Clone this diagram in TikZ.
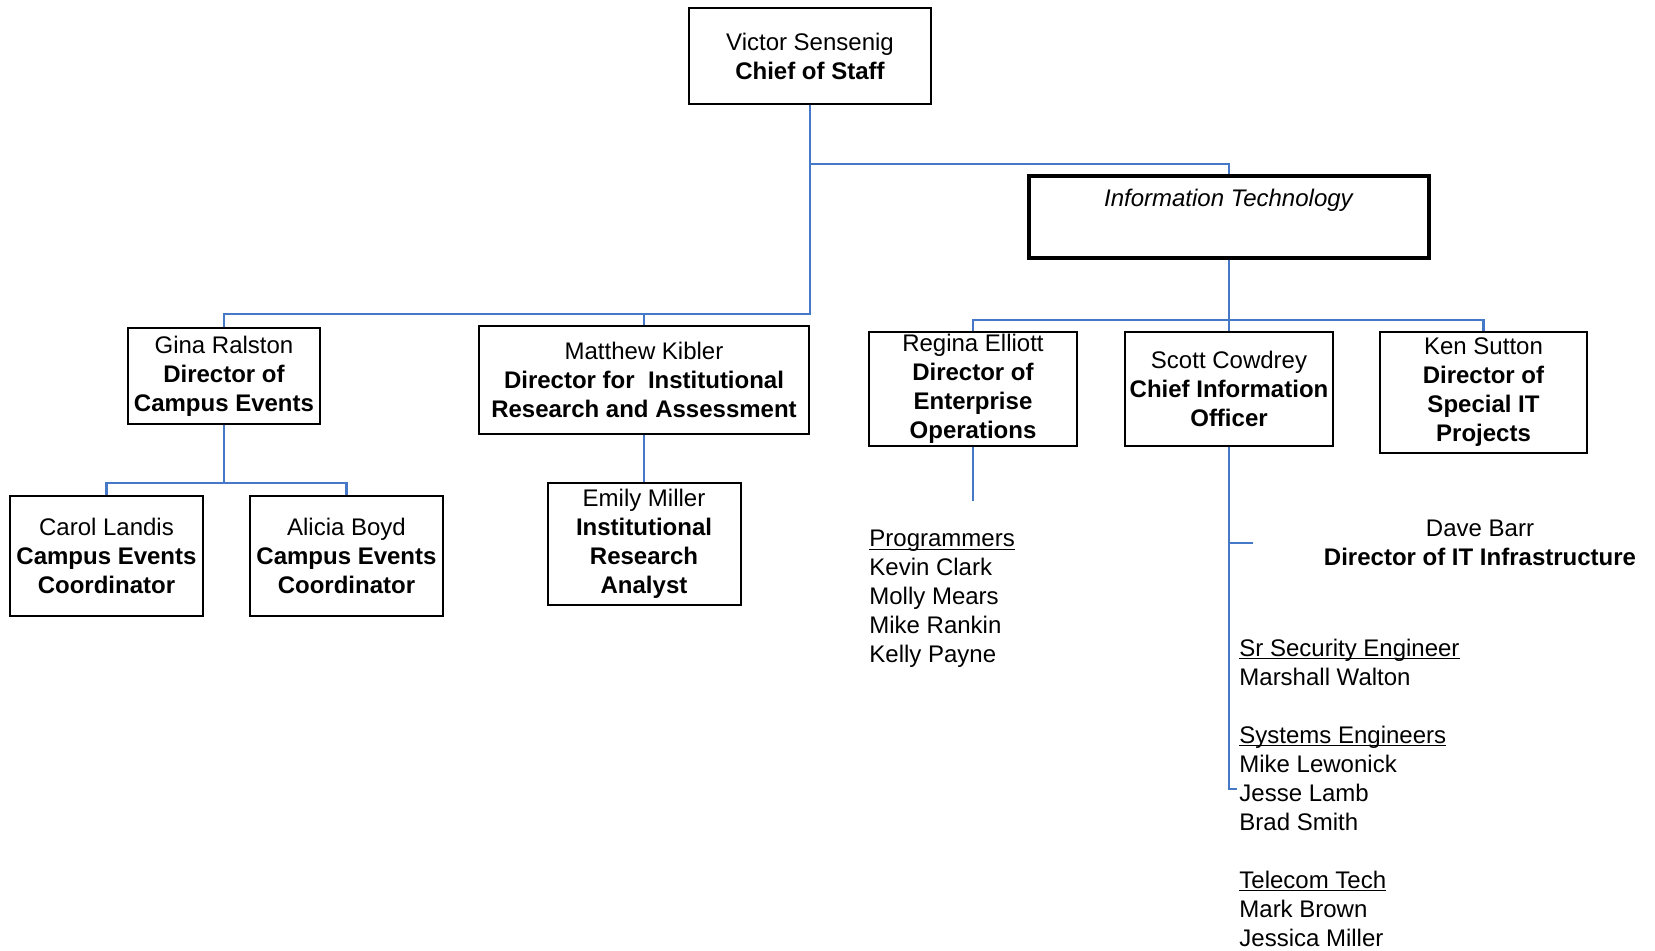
\documentclass[tikz,border=0pt]{standalone}
\usepackage{fontspec}
\setmainfont{Liberation Sans}
\usetikzlibrary{positioning}
\definecolor{linkblue}{RGB}{70,120,200}

\begin{document}
\begin{tikzpicture}[x=0.5pt,y=-0.5pt,
  every node/.style={font=\fontsize{12}{14.5}\selectfont,inner sep=0pt},
  box/.style={draw,line width=1pt,align=center},
  link/.style={draw=linkblue,line width=1.2pt},
  list/.style={anchor=north west,align=left}]
\useasboundingbox (0,0) rectangle (1655,951);

\coordinate (j0) at (810,164);
\coordinate (j1) at (810,314);
\coordinate (j2) at (224,483);
\coordinate (j3) at (1229,320);
\coordinate (j4) at (1229,543);
\coordinate (j5) at (1253,543);
\coordinate (j6) at (1229,789);
\coordinate (j7) at (1237,789);
\coordinate (j8) at (973,501);

\node (chief) at (810,56) [box,minimum width=121pt,minimum height=48pt] {Victor Sensenig\\\textbf{Chief of Staff}};
\node (itbox) at (1229,217) [box,line width=1.6pt,minimum width=200pt,minimum height=41pt] {\textit{Information Technology}\\\strut};
\node (gina) at (224,376) [box,minimum width=96pt,minimum height=48pt] {Gina Ralston\\\textbf{Director of}\\\textbf{Campus Events}};
\node (matthew) at (644,380) [box,minimum width=165pt,minimum height=54pt] {Matthew Kibler\\\textbf{Director for\ \ Institutional}\\\textbf{Research and Assessment}};
\node (carol) at (106.5,556) [box,minimum width=96.5pt,minimum height=60pt] {Carol Landis\\\textbf{Campus Events}\\\textbf{Coordinator}};
\node (alicia) at (346.5,556) [box,minimum width=96.5pt,minimum height=60pt] {Alicia Boyd\\\textbf{Campus Events}\\\textbf{Coordinator}};
\node (emily) at (644,544) [box,minimum width=96.5pt,minimum height=61pt] {Emily Miller\\\textbf{Institutional}\\\textbf{Research}\\\textbf{Analyst}};
\node (regina) at (973,389) [box,minimum width=104pt,minimum height=57pt] {Regina Elliott\\\textbf{Director of}\\\textbf{Enterprise}\\\textbf{Operations}};
\node (cio) at (1229,389) [box,minimum width=104pt,minimum height=57pt] {Scott Cowdrey\\\textbf{Chief Information}\\\textbf{Officer}};
\node (ken) at (1483.5,392.5) [box,minimum width=103.5pt,minimum height=60.5pt] {Ken Sutton\\\textbf{Director of}\\\textbf{Special IT}\\\textbf{Projects}};

\node (dave) at (1480,519.8) [anchor=north,align=center] {Dave Barr\\\textbf{Director of IT Infrastructure}};
\node (prog) at (869,529.6) [list] {\underbar{Programmers}\\Kevin Clark\\Molly Mears\\Mike Rankin\\Kelly Payne};
\node (infra) at (1239,638.3) [list] {\underbar{Sr Security Engineer}\\Marshall Walton\\[14.5pt]\underbar{Systems Engineers}\\Mike Lewonick\\Jesse Lamb\\Brad Smith\\[14.5pt]\underbar{Telecom Tech}\\Mark Brown\\Jessica Miller};

\draw[link] (chief.south) -- (j1) -| (gina.north);
\draw[link] (j0) -| (itbox.north);
\draw[link] (matthew.north) -- (matthew.north |- j1);
\draw[link] (gina.south) -- (j2);
\draw[link] (carol.north) -- (carol.north |- j2) -- (alicia.north |- j2) -- (alicia.north);
\draw[link] (regina.north) -- (regina.north |- j3) -| (ken.north);
\draw[link] (regina.south) -- (j8);
\draw[link] (cio.south) -- (j6) -- (j7);
\draw[link] (j4) -- (j5);
\foreach \a/\b in {matthew/emily,itbox/cio} {
\draw[link] (\a.south) -- (\b.north);};
\end{tikzpicture}
\end{document}
